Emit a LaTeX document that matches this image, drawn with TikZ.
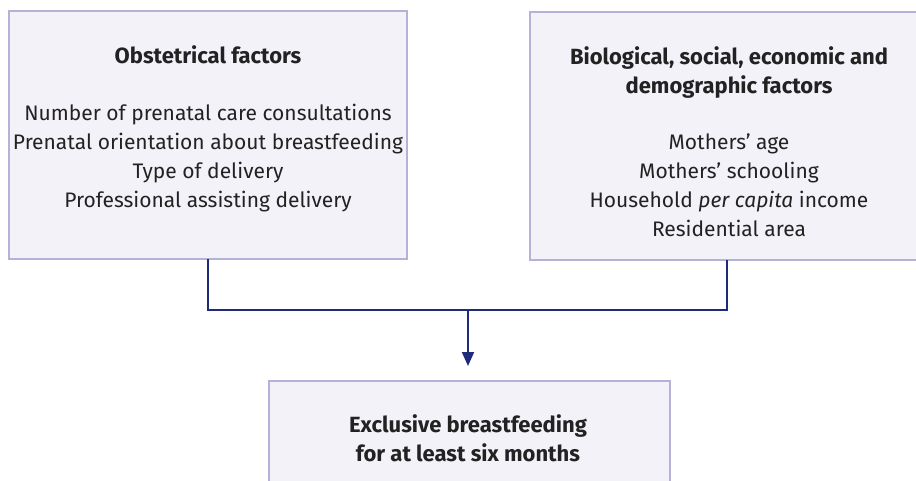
\documentclass[tikz,border=0pt]{standalone}
\usepackage{fontspec}
\setmainfont{Fira Sans}
\usetikzlibrary{arrows.meta}
\definecolor{boxfill}{HTML}{F3F2F8}
\definecolor{boxline}{HTML}{B4B2D6}
\definecolor{conn}{HTML}{1F2A7A}
\definecolor{txt}{HTML}{222222}
\begin{document}
\begin{tikzpicture}[x=1pt,y=-1pt,
  factorbox/.style={draw=boxline,fill=boxfill,line width=2pt},
  label/.style={text=txt,font=\fontsize{21}{29}\selectfont,align=center,inner sep=0pt},
  title/.style={label,font=\fontsize{22}{29.5}\selectfont\bfseries},
  connline/.style={draw=conn,line width=2pt},
  arrowline/.style={connline,-{Triangle[length=14pt,width=12pt]}}]
\clip (0,0) rectangle (916,481);
\fill[white] (0,0) rectangle (916,481);
\path[factorbox] (9,11) rectangle (407,259);
\node[inner sep=0pt,minimum width=398pt,minimum height=248pt] (L) at (208,135) {};
\path[factorbox] (530,12) rectangle (924,260);
\node[inner sep=0pt,minimum width=394pt,minimum height=248pt] (R) at (727,136) {};
\path[factorbox] (269,381) rectangle (670,500);
\node[inner sep=0pt,minimum width=401pt,minimum height=119pt] (B) at (468,440.5) {};
\node[title] (Lt) at (208,55) {Obstetrical factors};
\node[label,anchor=north] (Lb) at (208,104) {Number of prenatal care consultations\\Prenatal orientation about breastfeeding\\Type of delivery\\Professional assisting delivery};
\node[title,anchor=north] (Rt) at (729,46) {Biological, social, economic and\\demographic factors};
\node[label,anchor=north] (Rb) at (729,133) {Mothers’ age\\Mothers’ schooling\\Household \emph{per capita} income\\Residential area};
\node[title,anchor=north] (Bt) at (468,414) {Exclusive breastfeeding\\for at least six months};
\coordinate (J) at (468,310);
\draw[connline] (L.south) |- (J) -| (R.south);
\draw[arrowline] (J) -- (468,366);
\end{tikzpicture}
\end{document}
